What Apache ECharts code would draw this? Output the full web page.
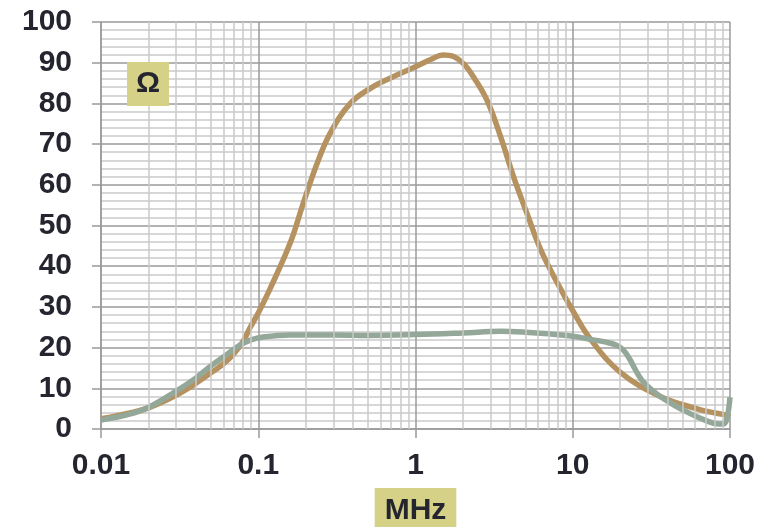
<!DOCTYPE html>
<html>
<head>
<meta charset="utf-8">
<script src="https://cdn.jsdelivr.net/npm/echarts@6/dist/echarts.min.js"></script>
<style>
  html, body { margin: 0; padding: 0; background: #ffffff; }
  #chart { width: 769px; height: 527px; }
</style>
</head>
<body>
<div id="chart"></div>
<script>
// frequency in MHz, impedance in ohm
const brownFreq = [0.01, 0.015, 0.02, 0.03, 0.04, 0.05, 0.06, 0.07, 0.08, 0.089, 0.1, 0.119, 0.16, 0.193, 0.237, 0.287, 0.385, 0.516, 0.69, 1, 1.25, 1.5, 1.75, 2.05, 2.4, 2.87, 3.48, 4.2, 5.2, 6.26, 8, 10.2, 13, 20, 36, 65, 74, 90, 100];
const brownVals = [2.5, 3.9, 5.2, 8.3, 11.2, 13.8, 16, 18.5, 21.5, 25, 28.5, 34.5, 45.8, 55.4, 65.3, 72.7, 80, 83.7, 86.2, 89, 90.8, 91.9, 91.5, 89.5, 85.8, 80.5, 71.8, 62, 52.2, 44, 35.8, 28.5, 22, 14, 8, 4.7, 4.2, 3.6, 3];

const greenFreq = [0.01, 0.015, 0.02, 0.0287, 0.04, 0.05, 0.06, 0.0765, 0.09, 0.107, 0.159, 0.3, 0.5, 1, 2, 3.5, 5, 7, 10, 13, 16, 19, 21, 23, 25, 27.5, 31.8, 36, 50, 73, 85, 90, 95, 100];
const greenVals = [2.2, 3.6, 5.3, 8.8, 12.5, 15.5, 17.7, 20.6, 21.9, 22.6, 23.1, 23.1, 23, 23.2, 23.6, 24, 23.8, 23.4, 22.8, 22, 21.4, 20.6, 19.4, 17.2, 14.6, 12, 9.6, 8, 4.7, 1.8, 1.2, 1.2, 2.2, 7.8];

const xTickLabels = ['0.01', '0.1', '1', '10', '100'];
const minorX = [];
[0.01, 0.1, 1, 10].forEach(d => {
  for (let k = 2; k <= 9; k++) minorX.push(+(d * k).toPrecision(3));
});

const textColor = '#25252f';
const font = 'Liberation Sans, Arial, sans-serif';
const majorColor = '#9a9a9a';
const minorColor = '#cacaca';

const chart = echarts.init(document.getElementById('chart'));
chart.setOption({
  animation: false,
  backgroundColor: '#ffffff',
  title: {
    text: 'Ω',
    left: 127,
    top: 62,
    padding: [5, 9],
    backgroundColor: '#d5d288',
    textStyle: { fontSize: 30, fontWeight: 'bold', color: textColor, fontFamily: font, lineHeight: 34 }
  },
  grid: { left: 101, right: 39, top: 22, bottom: 98, outerBoundsMode: 'none', containLabel: false },
  xAxis: {
    type: 'log',
    logBase: 10,
    min: 0.01,
    max: 100,
    name: 'MHz',
    nameLocation: 'middle',
    nameGap: 59,
    nameTextStyle: {
      fontSize: 30, fontWeight: 'bold', color: textColor, fontFamily: font,
      backgroundColor: '#d5d288', padding: [6, 10, 8, 10], lineHeight: 34
    },
    axisLine: { show: true, lineStyle: { color: majorColor, width: 1.5 } },
    axisTick: { show: true, length: 9, lineStyle: { color: majorColor, width: 1.5 } },
    axisLabel: {
      margin: 22, fontSize: 30, fontWeight: 'bold', color: textColor, fontFamily: font,
      formatter: v => {
        const i = Math.round(Math.log10(v) + 2);
        return xTickLabels[i] !== undefined ? xTickLabels[i] : '';
      }
    },
    splitLine: { show: true, lineStyle: { color: majorColor, width: 1.5 } },
    minorTick: { show: false },
    minorSplitLine: { show: false }
  },
  yAxis: {
    type: 'value',
    min: 0,
    max: 100,
    interval: 10,
    axisLine: { show: true, lineStyle: { color: majorColor, width: 1.5 } },
    axisTick: { show: true, length: 9, lineStyle: { color: majorColor, width: 1.5 } },
    axisLabel: { margin: 29, fontSize: 30, fontWeight: 'bold', color: textColor, fontFamily: font },
    splitLine: { show: true, lineStyle: { color: majorColor, width: 1.5 } },
    minorTick: { show: false, splitNumber: 5 },
    minorSplitLine: { show: true, lineStyle: { color: minorColor, width: 1.5 } }
  },
  series: [
    {
      type: 'line',
      name: 'minor',
      data: [],
      silent: true,
      z: 1,
      markLine: {
        silent: true,
        symbol: 'none',
        label: { show: false },
        lineStyle: { color: minorColor, width: 1.5, type: 'solid' },
        data: minorX.map(x => ({ xAxis: x }))
      }
    },
    {
      type: 'line',
      name: 'brown',
      data: brownFreq.map((f, i) => [f, brownVals[i]]),
      smooth: 0.4,
      showSymbol: false,
      z: 3,
      lineStyle: { color: '#b5925f', width: 5.5 }
    },
    {
      type: 'line',
      name: 'green',
      data: greenFreq.map((f, i) => [f, greenVals[i]]),
      smooth: 0.4,
      showSymbol: false,
      z: 4,
      lineStyle: { color: '#94a89a', width: 5.5 }
    }
  ]
});
</script>
</body>
</html>
